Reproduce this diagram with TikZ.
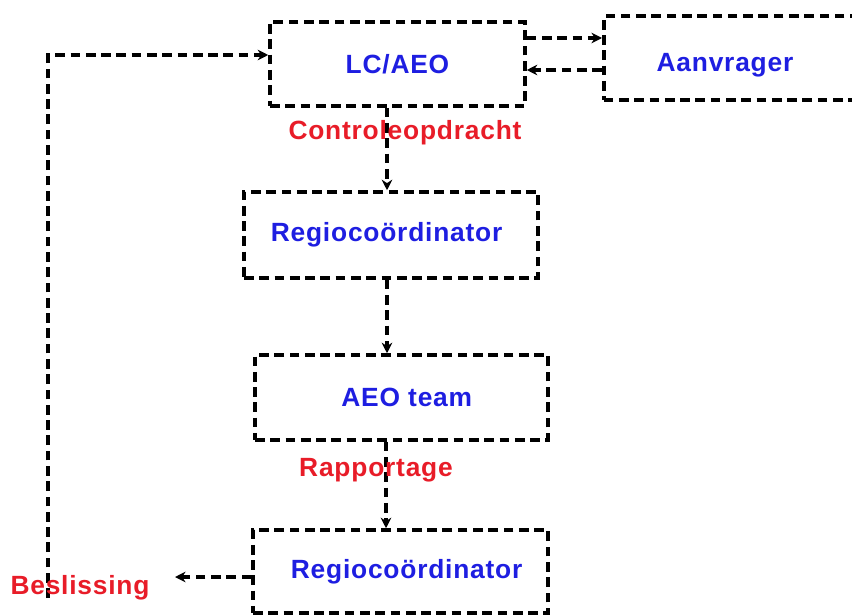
\documentclass[tikz,border=0pt]{standalone}
\usepackage{fontspec}
\setmainfont{Liberation Sans}[LetterSpace=3]
\usetikzlibrary{arrows.meta}
\definecolor{boxblue}{RGB}{30,30,225}
\definecolor{flowred}{RGB}{232,28,40}
\tikzset{
  box/.style={draw=black, line width=2pt, dash pattern=on 5.5pt off 3.2pt,
    minimum width=#1, minimum height=84*0.02cm, inner sep=0pt,
    text=boxblue, font=\bfseries\fontsize{15}{18}\selectfont},
  box/.default=5.9cm,
  flowlabel/.style={text=flowred, font=\bfseries\fontsize{15}{18}\selectfont, inner sep=0pt},
  conn/.style={draw=black, line width=1.9pt, dash pattern=on 5.5pt off 3.2pt,
    -{Stealth[length=6pt,width=6pt]}}
}
\begin{document}
\begin{tikzpicture}[x=0.02cm, y=-0.02cm]
  % picture frame, 852 x 615
  \clip (0,0) rectangle (852,615);
  \useasboundingbox (0,0) rectangle (852,615);

  % boxes
  \node[box=255*0.02cm] (lcaeo) at (397.5,64) {LC/AEO};
  \node[box=300*0.02cm, anchor=west] (aanv) at (602,58) {};
  \node[text=boxblue, font=\bfseries\fontsize{15}{18}\selectfont, inner sep=0pt] (aanvtxt) at (725,65) {Aanvrager};
  \node[box=294*0.02cm, minimum height=86*0.02cm] (regio1) at (391,235) {\hspace*{-5pt}Regiocoördinator};
  \node[box=293*0.02cm, minimum height=85*0.02cm] (team) at (401.5,397.5) {\hspace*{6pt}AEO team};
  \node[box=295*0.02cm, minimum height=83*0.02cm] (regio2) at (400.5,571.5) {\hspace*{7pt}Regiocoördinator};

  % helper points
  \coordinate (spine) at (387,0);
  \coordinate (out) at (175,577);
  \coordinate (fb) at (48,598);

  % connectors
  \draw[conn] (lcaeo.east |- 0,38) -- (aanv.west |- 0,38);
  \draw[conn] (aanv.west |- 0,70) -- (lcaeo.east |- 0,70);
  \draw[conn] (lcaeo.south -| spine) -- (regio1.north -| spine);
  \draw[conn] (regio1.south -| spine) -- (team.north -| spine);
  \draw[conn] ([xshift=-0.02cm]team.south -| spine) -- ([xshift=-0.02cm]regio2.north -| spine);
  \draw[conn] (regio2.west |- out) -- (out);
  \draw[conn] (fb) |- ([yshift=0.18cm]lcaeo.west);

  % labels
  \node[flowlabel] (ctrl) at (405,133) {Controleopdracht};
  \node[flowlabel] (rapp) at (376,470) {Rapportage};
  \node[flowlabel] (beslis) at (80,588) {Beslissing};
\end{tikzpicture}
\end{document}
